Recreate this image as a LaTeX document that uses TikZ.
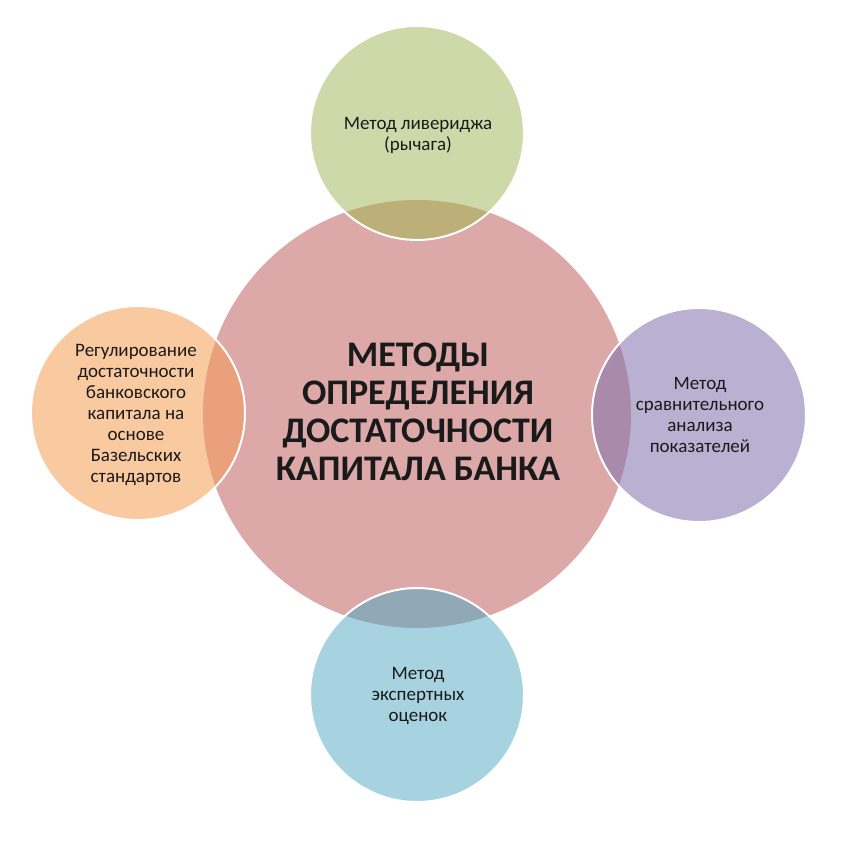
\documentclass[tikz,border=0pt]{standalone}
\usepackage{fontspec}
\setmainfont{Carlito}
\definecolor{pinkc}{HTML}{DCA8A8}
\definecolor{greenc}{HTML}{CDD9A8}
\definecolor{greenl}{HTML}{BCB078}
\definecolor{purplec}{HTML}{BAB0D1}
\definecolor{purplel}{HTML}{A98AAA}
\definecolor{orangec}{HTML}{F9C9A0}
\definecolor{orangel}{HTML}{EAA07A}
\definecolor{bluec}{HTML}{A7D3E1}
\definecolor{bluel}{HTML}{91A9B7}
\definecolor{txtc}{HTML}{1A1A1A}
\begin{document}
\begin{tikzpicture}[x=1pt,y=-1pt,
  bigc/.style={circle,minimum size=428pt,inner sep=0pt,fill=pinkc},
  smallc/.style={circle,minimum size=214pt,inner sep=0pt},
  ring/.style={draw=white,line width=2pt},
  smalltxt/.style={align=center,text=txtc,font=\fontsize{19}{21}\selectfont,inner sep=0pt},
  bigtxt/.style={align=center,text=txtc,font=\fontsize{36}{38}\selectfont\bfseries,inner sep=0pt}]
\useasboundingbox (0,0) rectangle (842,842);
\fill[white] (0,0) rectangle (842,842);
\node[bigc] (main) at (417,414) {};
\node[smallc,fill=greenc] (top) at (417,133) {};
\node[smallc,fill=purplec] (right) at (699,415) {};
\node[smallc,fill=bluec] (bottom) at (417,695) {};
\node[smallc,fill=orangec] (left) at (138,413) {};
\begin{scope}
  \clip (main.center) circle (214);
  \fill[greenl] (top.center) circle (107);
  \fill[purplel] (right.center) circle (107);
  \fill[bluel] (bottom.center) circle (107);
  \fill[orangel] (left.center) circle (107);
\end{scope}
\draw[ring] (top.center) circle (107);
\draw[ring] (right.center) circle (107);
\draw[ring] (bottom.center) circle (107);
\draw[ring] (left.center) circle (107);
\node[bigtxt] (maint) at (418,412) {МЕТОДЫ\\ОПРЕДЕЛЕНИЯ\\ДОСТАТОЧНОСТИ\\КАПИТАЛА БАНКА};
\node[smalltxt] (topt) at (418,135) {Метод ливериджа\\(рычага)};
\node[smalltxt] (rightt) at (700,415) {Метод\\сравнительного\\анализа\\показателей};
\node[smalltxt] (bottomt) at (418,696) {Метод\\экспертных\\оценок};
\node[smalltxt] (leftt) at (136,415) {Регулирование\\достаточности\\банковского\\капитала на\\основе\\Базельских\\стандартов};
\end{tikzpicture}
\end{document}
